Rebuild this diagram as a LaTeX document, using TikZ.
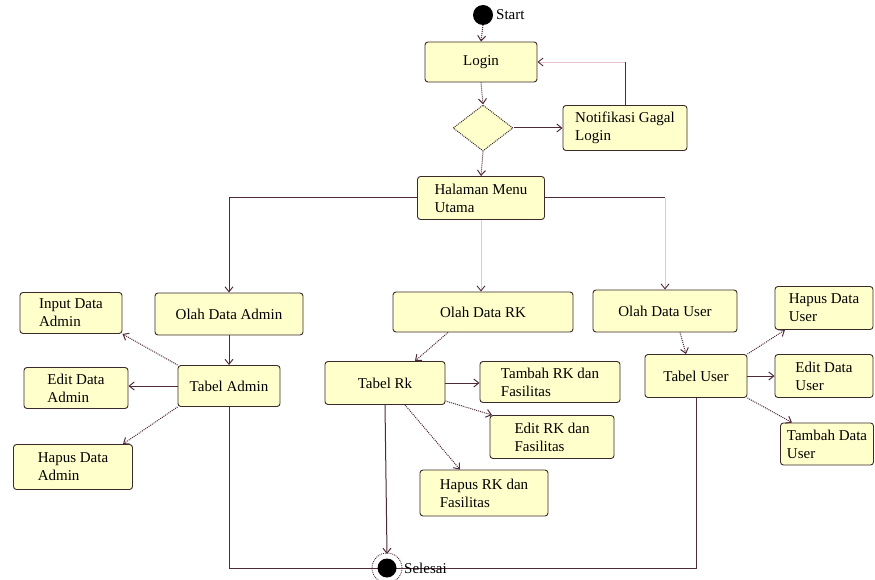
\documentclass[tikz,border=0pt]{standalone}
\usepackage{fontspec}
\setmainfont{Liberation Serif}
\usetikzlibrary{arrows.meta,shapes.geometric}
\definecolor{boxfill}{HTML}{FFFFCC}
\definecolor{boxline}{HTML}{3A2A2A}
\definecolor{linedark}{HTML}{4F2A38}
\definecolor{linelight}{HTML}{E8C4CE}
\tikzset{
  box/.style={draw=boxline, line width=0.9pt, fill=boxfill, rounded corners=3pt,
    inner sep=3pt, align=left, font=\fontsize{15}{18}\selectfont},
  tip/.style={-{Straight Barb[length=5pt,width=8pt,color=linedark]}},
  solidflow/.style={tip, draw=linedark, line width=1pt},
  dotflow/.style={tip, draw=linedark, line width=1pt, densely dotted},
  lightflow/.style={tip, draw=linelight, line width=0.9pt},
  plainline/.style={draw=linedark, line width=1pt},
  lbl/.style={font=\fontsize{15}{17}\selectfont, anchor=west, inner sep=1pt}
}
\begin{document}
\begin{tikzpicture}[x=1pt,y=-1pt]
\useasboundingbox (0,0) rectangle (875,580);

% start state
\coordinate (start) at (483,15);
\fill[black] (start) circle (10);
\node[lbl] (startlbl) at (495,15) {Start};

% top part
\node[box, minimum width=112, minimum height=40, align=center] (login) at (481,62) {Login};
\node[draw=boxline, densely dotted, line width=1pt, fill=boxfill, diamond,
      minimum width=60, minimum height=46, inner sep=0pt] (dec) at (483,128) {};
\node[box, minimum width=124, minimum height=45] (notif) at (625,128) {Notifikasi Gagal\\Login};
\node[box, minimum width=127, minimum height=43] (menu) at (481,198) {Halaman Menu\\Utama};

% second row
\node[box, minimum width=148, minimum height=42, align=center] (olahadmin) at (229,314) {Olah Data Admin};
\node[box, minimum width=180, minimum height=40, align=center] (olahrk) at (483,312) {Olah Data RK};
\node[box, minimum width=144, minimum height=42, align=center] (olahuser) at (665,311) {Olah Data User};

% admin branch
\node[box, minimum width=102, minimum height=41, align=center] (tadmin) at (229,386) {Tabel Admin};
\node[box, minimum width=102, minimum height=41] (inadmin) at (71,313) {Input Data\\Admin};
\node[box, minimum width=104, minimum height=41] (edadmin) at (76,388) {Edit Data\\Admin};
\node[box, minimum width=119, minimum height=45] (hpadmin) at (73,467) {Hapus Data\\Admin};

% rk branch
\node[box, minimum width=120, minimum height=43, align=center] (trk) at (385,383) {Tabel Rk};
\node[box, minimum width=140, minimum height=41] (tbrk) at (550,382) {Tambah RK dan\\Fasilitas};
\node[box, minimum width=124, minimum height=43] (edrk) at (552,437) {Edit RK dan\\Fasilitas};
\node[box, minimum width=128, minimum height=46] (hprk) at (484,493) {Hapus RK dan\\Fasilitas};

% user branch
\node[box, minimum width=102, minimum height=43, align=center] (tuser) at (696,376) {Tabel User};
\node[box, minimum width=98, minimum height=43] (hpuser) at (824,308) {Hapus Data\\User};
\node[box, minimum width=98, minimum height=43] (eduser) at (824,376) {Edit Data\\User};
\node[box, minimum width=93, minimum height=42] (tbuser) at (827,444) {Tambah Data\\User};

% final state
\coordinate (endc) at (387,568);
\coordinate (endtop) at (387,554);
\draw[plainline, line width=0.8pt] (tadmin.south) |- (endc);
\draw[plainline, line width=0.8pt] (tuser.south) |- (endc);
\draw[linedark, densely dotted, line width=0.9pt] (endc) circle (15);
\fill[black] (endc) circle (9.5);
\node[lbl] (endlbl) at (403,568) {Selesai};
\draw[solidflow] (trk.south) -- (endtop);

% connectors, top
\draw[dotflow] (start) ++(0,10) -- (login.north);
\draw[dotflow] (login.south) -- (dec.north);
\draw[solidflow] (dec.east) -- (notif.west);
\coordinate (nturn) at (notif.north |- login.east);
\draw[plainline] (notif.north) -- (nturn);
\draw[lightflow] (nturn) -- (login.east);
\draw[dotflow] (dec.south) -- (menu.north);

% connectors from the main menu
\draw[solidflow] (menu.west) -| (olahadmin.north);
\draw[lightflow] (menu.south) -- (menu.south |- olahrk.north);
\coordinate (mturn) at (olahuser.north |- menu.east);
\draw[plainline] (menu.east) -- (mturn);
\draw[lightflow] (mturn) -- (olahuser.north);

% admin connectors
\draw[solidflow] (olahadmin.south) -- (tadmin.north);
\draw[dotflow] (tadmin.north west) -- (inadmin.south east);
\draw[solidflow] (tadmin.west) -- (tadmin.west -| edadmin.east);
\draw[dotflow] (tadmin.south west) -- ([xshift=-10pt]hpadmin.north east);

% rk connectors
\draw[dotflow] ([xshift=-35pt]olahrk.south) -- ([xshift=30pt]trk.north);
\draw[solidflow] (trk.east) -- (trk.east -| tbrk.west);
\draw[dotflow] ([yshift=4pt]trk.south east) -- ([xshift=-60pt]edrk.north);
\draw[dotflow] ([xshift=20pt]trk.south) -- ([xshift=-24pt]hprk.north);

% user connectors
\draw[dotflow] ([xshift=15pt]olahuser.south) -- ([xshift=-10pt]tuser.north);
\draw[dotflow] (tuser.north east) -- ([xshift=-39pt]hpuser.south);
\draw[solidflow] (tuser.east) -- (tuser.east -| eduser.west);
\draw[dotflow] (tuser.south east) -- ([xshift=-35pt]tbuser.north);
\end{tikzpicture}
\end{document}
